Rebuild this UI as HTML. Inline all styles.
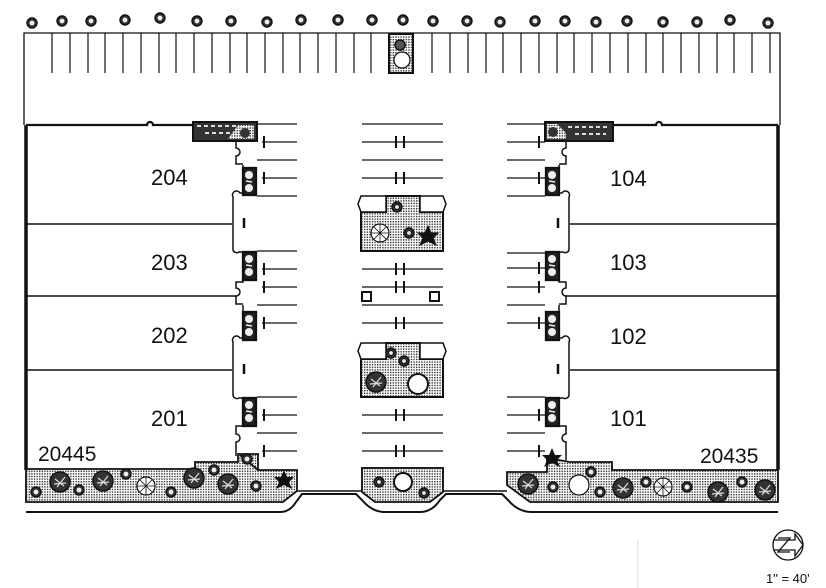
<!DOCTYPE html>
<html><head><meta charset="utf-8"><style>
html,body{margin:0;padding:0;background:#fff}
svg{display:block}
text{font-family:"Liberation Sans",sans-serif;fill:#111}
</style></head><body>
<svg width="826" height="588" viewBox="0 0 826 588" xmlns="http://www.w3.org/2000/svg">
<defs>
<pattern id="d" width="2.6" height="2.6" patternUnits="userSpaceOnUse"><rect width="2.6" height="2.6" fill="#fff"/><rect x="0" y="0" width="1.4" height="1.4" fill="#333"/></pattern>
<g id="t"><circle r="5" fill="#333" stroke="#111" stroke-width="1.4"/><circle r="2.4" fill="#eee"/></g>
<g id="tb"><circle r="10" fill="#333" stroke="#111" stroke-width="1.5"/><path d="M-5-3L4 4M-3 5L5-5M-6 2L6 1" stroke="#ddd" stroke-width="1.2"/></g>
<g id="tw"><circle r="9" fill="#fff" stroke="#111" stroke-width="1.2"/><path d="M0-9V9M-9 0H9M-6-6L6 6M-6 6L6-6" stroke="#111" stroke-width=".8"/></g>
<g id="s"><path d="M0-10L3-3L10-3L5 2L8 9L0 5L-8 9L-5 2L-10-3L-3-3Z" fill="#111"/></g>
<g id="pl"><circle cx="6" cy="7" r="4" fill="#eee"/><circle cx="6" cy="20" r="4" fill="#eee"/><path d="M3 13L9 14" stroke="#eee" stroke-width="1.5"/></g>
</defs>
<g stroke="#111" fill="none">
<path d="M24 125V33H780V125" stroke-width="1.3"/>
<g stroke="none">
<use href="#t" x="32" y="23"/><use href="#t" x="62" y="21"/><use href="#t" x="91" y="21"/><use href="#t" x="125" y="20"/><use href="#t" x="160" y="18"/><use href="#t" x="197" y="21"/><use href="#t" x="231" y="21"/><use href="#t" x="267" y="22"/><use href="#t" x="301" y="20"/><use href="#t" x="338" y="20"/><use href="#t" x="372" y="20"/><use href="#t" x="403" y="20"/><use href="#t" x="433" y="21"/><use href="#t" x="467" y="21"/><use href="#t" x="500" y="22"/><use href="#t" x="535" y="21"/><use href="#t" x="565" y="21"/><use href="#t" x="596" y="22"/><use href="#t" x="627" y="21"/><use href="#t" x="663" y="22"/><use href="#t" x="697" y="22"/><use href="#t" x="730" y="20"/><use href="#t" x="768" y="23"/>
</g>
<path stroke-width="1.2" d="M52 33V73M70 33V73M88 33V73M105 33V73M123 33V73M141 33V73M159 33V73M176 33V73M194 33V73M212 33V73M230 33V73M247 33V73M265 33V73M283 33V73M300 33V73M318 33V73M336 33V73M354 33V73M371 33V73M432 33V73M450 33V73M468 33V73M486 33V73M503 33V73M521 33V73M539 33V73M557 33V73M574 33V73M592 33V73M610 33V73M628 33V73M646 33V73M663 33V73M681 33V73M699 33V73M717 33V73M734 33V73M752 33V73M770 33V73"/>
<rect x="389" y="34" width="24" height="39" fill="url(#d)" stroke-width="2"/>
<circle cx="400" cy="45" r="5" fill="#555" stroke-width="1.5"/><circle cx="402" cy="60" r="8" fill="#fff" stroke-width="1.2"/>

<!-- left building -->
<path d="M26 125H147a3 3 0 0 1 6 0H193" stroke-width="2.3"/>
<path d="M26 125V470" stroke-width="3.5"/>
<rect x="193" y="122" width="64" height="19" fill="#333" stroke-width="2"/>
<path d="M197 126H236M205 133H232" stroke="#ddd" stroke-width="2" stroke-dasharray="4 3"/>
<path d="M238 125H254V139H228Z" fill="url(#d)" stroke="none"/>
<circle cx="245" cy="133" r="5" fill="#333" stroke="none"/>
<path d="M236 141V148a4 4 0 0 1 0 8V164H243M243 165V193h-3a4 4 0 0 0-7 4V250a4 4 0 0 0 6 2h4M243 252V282H236V288a4 4 0 0 1 0 8V304H243M243 305V338h-3a4 4 0 0 0-7 4V395a4 4 0 0 0 6 3h4M243 398V426H236V434a4 4 0 0 1 0 8V456" stroke-width="1.5"/>
<rect x="243" y="168" width="13" height="27" fill="#222" stroke-width="2.3"/><use href="#pl" x="243" y="168" stroke="none"/>
<rect x="243" y="252" width="13" height="28" fill="#222" stroke-width="2.3"/><use href="#pl" x="243" y="252" stroke="none"/>
<rect x="243" y="312" width="13" height="28" fill="#222" stroke-width="2.3"/><use href="#pl" x="243" y="312" stroke="none"/>
<rect x="243" y="398" width="13" height="28" fill="#222" stroke-width="2.3"/><use href="#pl" x="243" y="398" stroke="none"/>
<path d="M26 224H232M26 296H236M26 370H232" stroke-width="1.5"/>
<path d="M244 218V228M244 364V374" stroke-width="2.5"/>

<!-- right building -->
<path d="M613 125H656a3 3 0 0 1 6 0H778" stroke-width="2.3"/>
<path d="M778 125V470" stroke-width="3.5"/>
<rect x="545" y="122" width="68" height="19" fill="#333" stroke-width="2"/>
<path d="M568 127H610M575 134H606" stroke="#ddd" stroke-width="2" stroke-dasharray="4 3"/>
<path d="M547 124H557L566 133V139H547Z" fill="url(#d)" stroke="none"/>
<circle cx="553" cy="132" r="5" fill="#333" stroke="none"/>
<path d="M566 141V148a4 4 0 0 0 0 8V164H559M559 165V193h3a4 4 0 0 1 7 4V250a4 4 0 0 1-6 2h-4M559 252V282H566V288a4 4 0 0 0 0 8V304H559M559 305V338h3a4 4 0 0 1 7 4V395a4 4 0 0 1-6 3h-4M559 398V426H566V434a4 4 0 0 0 0 8V460" stroke-width="1.5"/>
<rect x="546" y="168" width="13" height="27" fill="#222" stroke-width="2.3"/><use href="#pl" x="546" y="168" stroke="none"/>
<rect x="546" y="252" width="13" height="28" fill="#222" stroke-width="2.3"/><use href="#pl" x="546" y="252" stroke="none"/>
<rect x="546" y="312" width="13" height="28" fill="#222" stroke-width="2.3"/><use href="#pl" x="546" y="312" stroke="none"/>
<rect x="546" y="398" width="13" height="28" fill="#222" stroke-width="2.3"/><use href="#pl" x="546" y="398" stroke="none"/>
<path d="M570 224H778M566 296H778M570 370H778" stroke-width="1.5"/>
<path d="M558 218V228M558 364V374" stroke-width="2.5"/>

<path stroke-width="1.2" d="M257 124H297M262 142H297M257 160H297M262 178H297M257 196H297M257 251H297M262 269H297M262 287H297M257 305H297M262 323H297M257 397H297M262 415H297M257 433H297M262 451H297
M362 124H443M362 142H443M362 160H443M362 178H443M362 269H443M362 287H443M362 305H443M362 323H443M362 415H443M362 433H443M362 451H443
M507 124H545M507 142H545M507 160H545M507 178H545M507 196H545M507 253H545M507 268H545M507 287H545M507 305H545M507 323H545M507 397H545M507 415H545M507 433H545M507 451H545"/>
<path stroke-width="2" d="M264 136V148M264 172V184M264 263V275M264 281V293M264 317V329M264 409V421M264 445V457
M396 136V148M404 136V148M396 172V184M404 172V184M396 263V275M404 263V275M396 281V293M404 281V293M396 317V329M404 317V329M396 409V421M404 409V421M396 445V457M404 445V457
M539 136V148M539 172V184M539 262V274M539 281V293M539 317V329M539 409V421M539 445V457"/>
<path d="M386 196H420V212H443V251H361V212H386Z" fill="url(#d)" stroke-width="2"/>
<path d="M386 196H361l-3 8 3 8H386ZM420 196H443l3 8-3 8H420Z" fill="#fff" stroke-width="1.5"/>
<use href="#tw" x="380" y="233"/><use href="#t" x="397" y="207"/><use href="#t" x="409" y="233"/><use href="#s" x="428" y="236"/>
<path d="M386 343H420V359H443V397H361V359H386Z" fill="url(#d)" stroke-width="2"/>
<path d="M386 343H361l-3 8 3 8H386ZM420 343H443l3 8-3 8H420Z" fill="#fff" stroke-width="1.5"/>
<use href="#t" x="391" y="353"/><use href="#t" x="404" y="361"/><use href="#tb" x="376" y="382"/><circle cx="418" cy="384" r="10" fill="#fff" stroke-width="2"/>
<rect x="362" y="292" width="9" height="9" stroke-width="2"/><rect x="430" y="292" width="9" height="9" stroke-width="2"/>

<path d="M26 469H195V462H238V454H258V470H297V491L283 502H26Z" fill="url(#d)" stroke-width="1.8"/>
<path d="M240 455L258 470" stroke-width="2"/>
<g stroke="none">
<use href="#t" x="36" y="492"/><use href="#tb" x="60" y="482"/><use href="#t" x="79" y="490"/><use href="#tb" x="103" y="481"/><use href="#t" x="126" y="474"/><use href="#tw" x="146" y="486"/><use href="#t" x="171" y="492"/><use href="#tb" x="194" y="478"/><use href="#t" x="214" y="470"/><use href="#tb" x="228" y="484"/><use href="#t" x="256" y="486"/><use href="#t" x="247" y="459"/><use href="#s" x="284" y="480"/>
</g>
<path d="M26 512H280Q290 512 296 502L302 494H356L362 500Q372 512 385 512H420Q432 512 440 500L446 494H502L508 500Q518 512 532 512H778" stroke-width="2"/>
<path d="M297 491H362V468H443V491H507" stroke-width="1.5"/>
<path d="M362 468H443V492L430 502H375L362 492Z" fill="url(#d)" stroke-width="1.8"/>
<use href="#t" x="379" y="482"/><circle cx="403" cy="482" r="9" fill="#fff" stroke-width="2"/><use href="#t" x="424" y="493"/>
<path d="M507 472H547V458L570 462H612V470H778V502H530L507 485Z" fill="url(#d)" stroke-width="1.8"/>
<g stroke="none">
<use href="#tb" x="528" y="484"/><use href="#t" x="553" y="487"/><circle cx="579" cy="485" r="10" fill="#fff" stroke="#111" stroke-width="1.2"/><use href="#t" x="591" y="472"/><use href="#t" x="600" y="492"/><use href="#tb" x="623" y="488"/><use href="#t" x="646" y="482"/><use href="#tw" x="663" y="487"/><use href="#t" x="687" y="487"/><use href="#tb" x="718" y="492"/><use href="#t" x="742" y="482"/><use href="#tb" x="765" y="490"/><use href="#s" x="552" y="458"/>
</g>
<circle cx="788" cy="545" r="15" stroke-width="1.3"/>
<path d="M774 540H795V534L803 545L795 556V550H774M778 538L790 538L778 552H790" stroke-width="1.3"/>
<path d="M638 540V588" stroke="#ddd" stroke-width="1"/>
</g>
<g font-size="22">
<text x="151" y="185">204</text><text x="151" y="270">203</text><text x="151" y="343">202</text><text x="151" y="426">201</text>
<text x="610" y="186">104</text><text x="610" y="270">103</text><text x="610" y="344">102</text><text x="610" y="426">101</text>
<text x="38" y="461" font-size="21">20445</text><text x="700" y="463" font-size="21">20435</text>
</g>
<text x="766" y="583" font-size="13">1" = 40'</text>
</svg>
</body></html>
